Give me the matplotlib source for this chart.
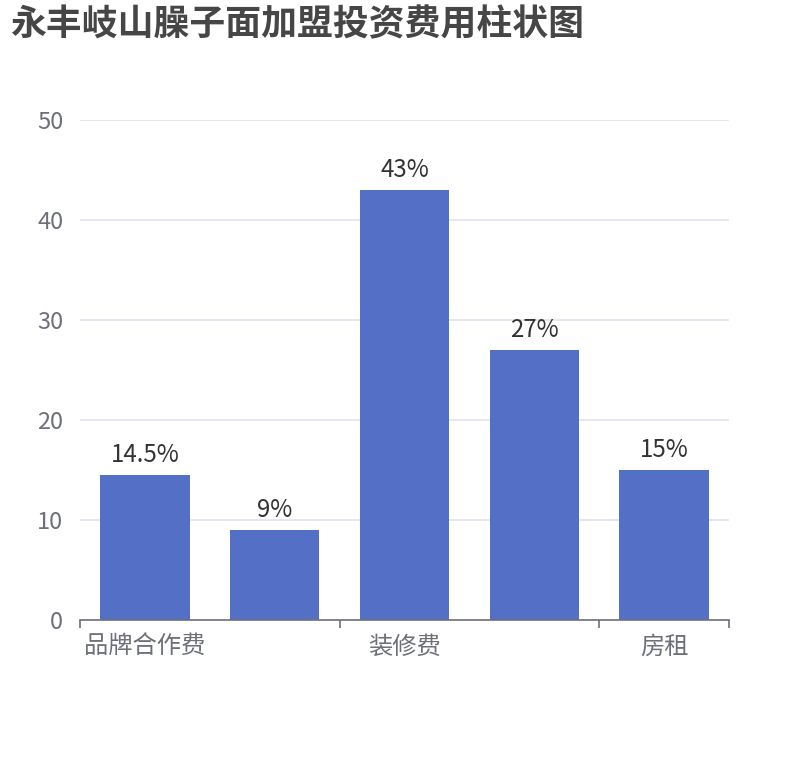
import matplotlib.pyplot as plt
from matplotlib.ticker import FixedLocator

plt.rcParams['font.family'] = ['Noto Sans CJK SC', 'DejaVu Sans']

# data
categories = ['品牌合作费', '设备费', '装修费', '原材料费', '房租']
values = [14.5, 9, 43, 27, 15]
value_labels = ['14.5%', '9%', '43%', '27%', '15%']
y_ticks = [0, 10, 20, 30, 40, 50]

W, H = 810, 760
fig = plt.figure(figsize=(W / 100, H / 100), dpi=100)
ax = fig.add_axes([80 / W, 1 - 620 / H, (729 - 80) / W, (620 - 120) / H])

x = list(range(len(categories)))
ax.bar(x, values, width=0.69, color='#5470c6', zorder=3)

for xi, v, lab in zip(x, values, value_labels):
  ax.annotate(lab, (xi, v), xytext=(0, 5), textcoords='offset points',
              ha='center', va='bottom', fontsize=17.3, color='#333333')

ax.set_xlim(-0.5, len(categories) - 0.5)
ax.set_ylim(0, 50)
ax.set_yticks(y_ticks)
ax.yaxis.grid(True, color='#E0E6F1', linewidth=1.3, zorder=0)
ax.tick_params(axis='y', length=0, pad=12, labelsize=17, labelcolor='#6E7079')

# labels every other category, ticks on the category boundaries
ax.xaxis.set_major_locator(FixedLocator([0, 2, 4]))
ax.set_xticklabels([categories[i] for i in [0, 2, 4]])
ax.tick_params(axis='x', which='major', length=0, pad=10, labelsize=17.5, labelcolor='#6E7079')
ax.xaxis.set_minor_locator(FixedLocator([-0.5, 1.5, 3.5, 4.5]))
ax.tick_params(axis='x', which='minor', length=6, width=1.2, color='#6E7079')

for s in ['top', 'right', 'left']:
  ax.spines[s].set_visible(False)
ax.spines['bottom'].set_color('#6E7079')
ax.spines['bottom'].set_linewidth(1.2)
ax.spines['bottom'].set_zorder(4)

fig.text(10 / W, 1 - 25 / H, '永丰岐山臊子面加盟投资费用柱状图', fontsize=25.8,
         fontweight='bold', color='#464646', ha='left', va='center')

fig.savefig('out.png', dpi=100)
